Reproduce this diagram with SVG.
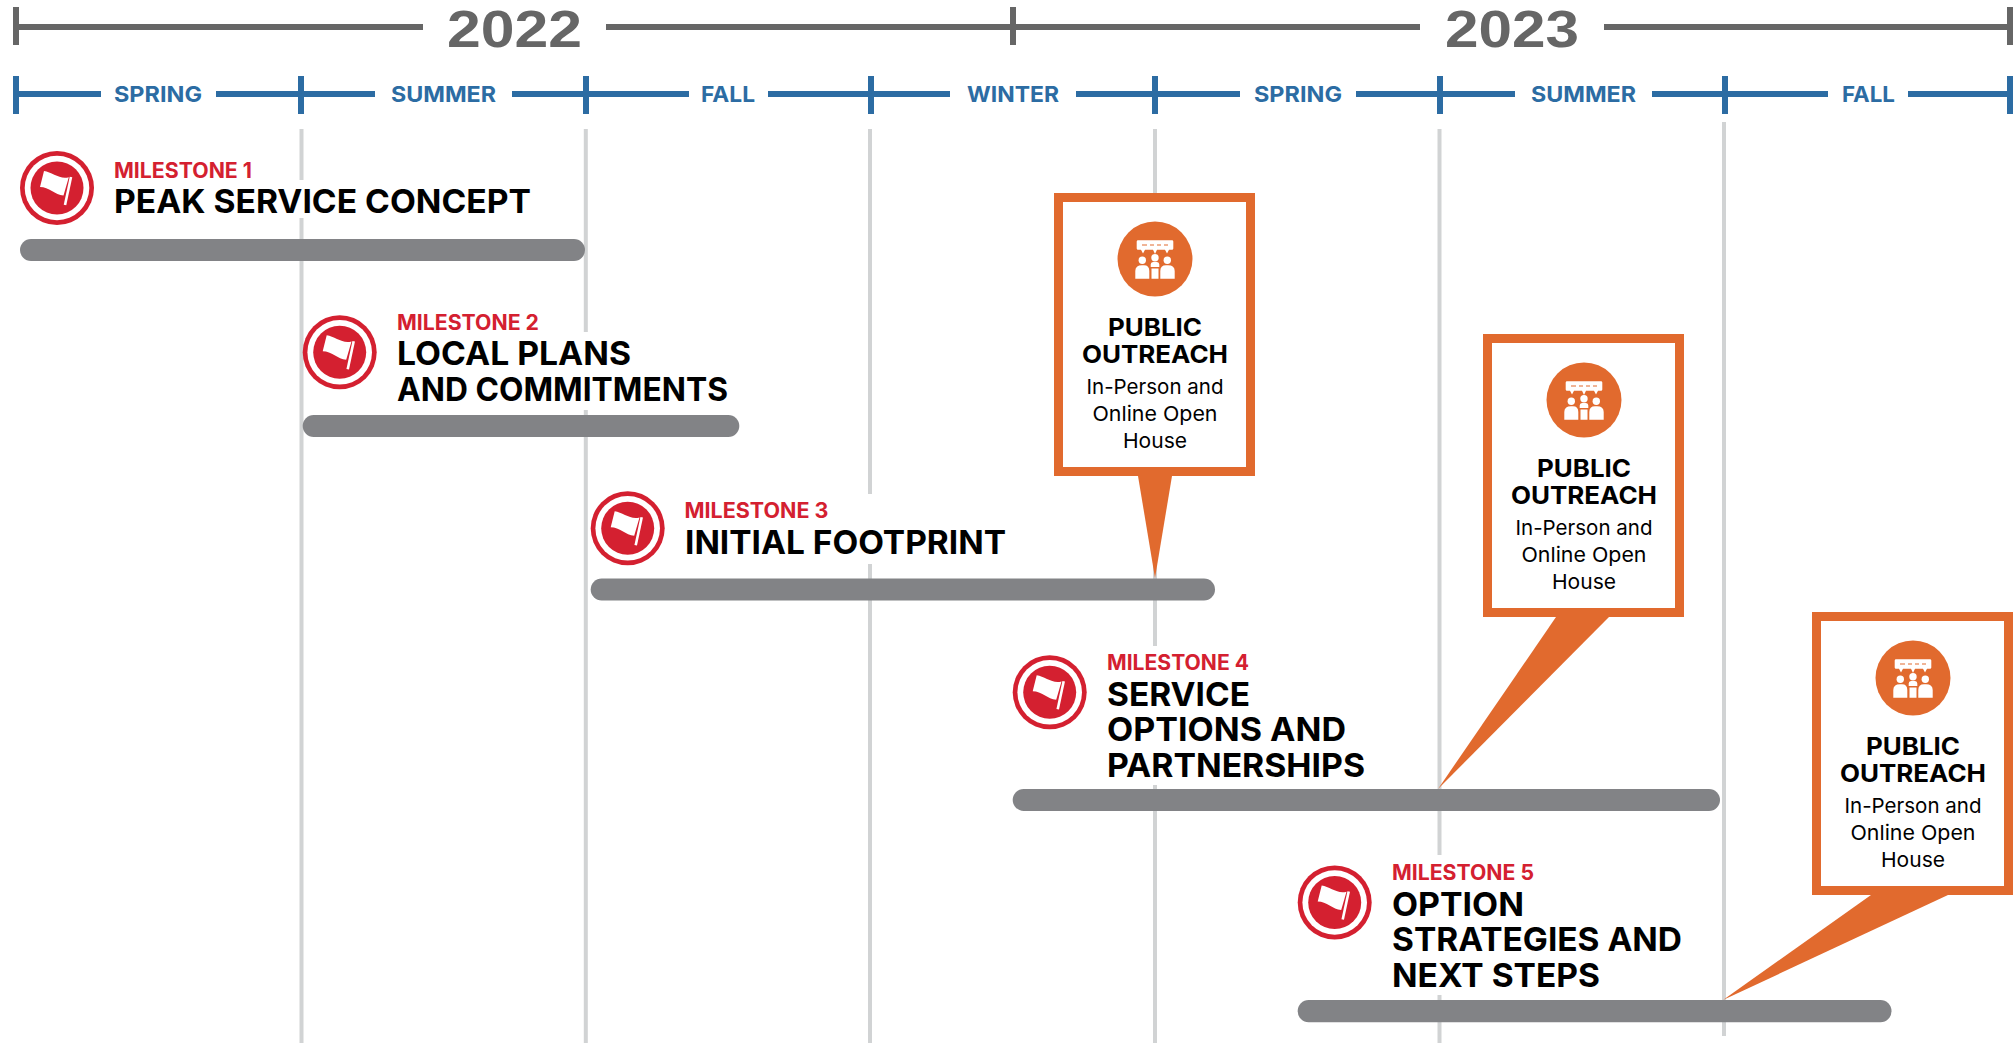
<svg xmlns="http://www.w3.org/2000/svg" xmlns:xlink="http://www.w3.org/1999/xlink" width="2013" height="1043" viewBox="0 0 2013 1043">
<style>
text{font-family:Inter,"Liberation Sans",sans-serif}
.yr{font-family:"Liberation Sans",Arial,sans-serif;font-size:52px;font-weight:700;fill:#666}
.sn{font-size:22px;font-weight:700;fill:#2c6ca3}
.ml{font-size:21px;font-weight:700;fill:#d42030}
.mt{font-size:33px;font-weight:700;fill:#000}
.ph{font-size:24.500px;font-weight:700;fill:#000;text-anchor:middle}
.ps{font-size:20.500px;font-weight:400;fill:#000;text-anchor:middle}
.g{stroke:#666;stroke-width:6;fill:none}
.b{stroke:#2c6ca3;stroke-width:6;fill:none}
.v{stroke:#d1d3d4;stroke-width:4;fill:none}
.bar{fill:#828386}
.o{fill:#e16a2e}
</style>
<defs>
<g id="flag">
<circle r="37" fill="#d42030"/><circle r="32.300" fill="#fff"/><circle r="26.500" fill="#d42030"/>
<path d="M-13-17C-5-16 3-8 11.800-10.800L6.500 7.500C-2 7-8-1-17-1Z" fill="#fff"/>
<path d="M14-11 8 17" stroke="#fff" stroke-width="2.600" fill="none"/>
</g>
<g id="pub">
<circle r="37.500" class="o"/>
<path d="M-17-18.700H17Q18.300-18.700 18.300-17.400V-10.600Q18.300-9.300 17-9.300H14L12-5.500 10-9.300H2L0-5-2-9.300H-10L-12-5.500-14-9.300H-17Q-18.300-9.300-18.300-10.600V-17.400Q-18.300-18.700-17-18.700Z" fill="#fff"/>
<path d="M-13-14H-8M-5-14H-1M2-14H6M9-14H13" stroke="#e16a2e" stroke-width="1.200"/>
<circle cx="-12.700" cy="1.300" r="3.700" fill="#fff"/><circle cx="0" cy="-1.300" r="3.700" fill="#fff"/><circle cx="12.300" cy="1.300" r="3.700" fill="#fff"/>
<path d="M-19.700 19.700V12Q-19.700 6.300-13 6.300H-11Q-5.700 6.300-5.700 12V19.700ZM19.700 19.700V12Q19.700 6.300 13 6.300H11Q5.300 6.300 5.300 12V19.700ZM-4.300 8V5.500Q-4.300 3-2 3H2Q4.300 3 4.300 5.500V8ZM-3.500 9.500H3.500V19.700H-3.500Z" fill="#fff"/>
</g>
</defs>
<rect width="2013" height="1043" fill="#fff"/>
<g id="axis-years">
<path class="g" d="M16 27H423M606 27H1420M1604 27H2010M16 7V45M1013 7V45M2010 7V45"/>
<text class="yr" x="447" y="47" textLength="135" lengthAdjust="spacingAndGlyphs">2022</text>
<text class="yr" x="1445" y="47" textLength="134" lengthAdjust="spacingAndGlyphs">2023</text>
</g>
<g id="axis-seasons">
<path class="b" d="M16 94H101M216 94H375M512 94H689M768 94H950M1076 94H1240M1356 94H1515M1652 94H1828M1908 94H2010M16 76V114M301 76V114M586 76V114M871 76V114M1155 76V114M1440 76V114M1725 76V114M2010 76V114"/>
<text class="sn" x="114" y="102" textLength="88" lengthAdjust="spacingAndGlyphs">SPRING</text>
<text class="sn" x="391" y="102" textLength="105" lengthAdjust="spacingAndGlyphs">SUMMER</text>
<text class="sn" x="701" y="102" textLength="54" lengthAdjust="spacingAndGlyphs">FALL</text>
<text class="sn" x="967" y="102" textLength="92" lengthAdjust="spacingAndGlyphs">WINTER</text>
<text class="sn" x="1254" y="102" textLength="88" lengthAdjust="spacingAndGlyphs">SPRING</text>
<text class="sn" x="1531" y="102" textLength="105" lengthAdjust="spacingAndGlyphs">SUMMER</text>
<text class="sn" x="1842" y="102" textLength="53" lengthAdjust="spacingAndGlyphs">FALL</text>
</g>
<g id="grid">
<path class="v" d="M301.500 129V1043M585.800 129V1043M870 129V1043M1155 129V1043M1439.500 129V1043M1724 122V1036"/>
</g>
<g id="halos" fill="#fff">
<rect x="285" y="180" width="40" height="38"/>
<rect x="570" y="332" width="40" height="78"/>
<rect x="855" y="494" width="40" height="70"/>
<rect x="1140" y="646" width="40" height="139"/>
<rect x="1425" y="855" width="40" height="140"/>
</g>
<g id="connectors">
<path class="o" d="M1138 476H1172L1155 578Z"/>
<path class="o" d="M1556 617H1609L1438 789Z"/>
<path class="o" d="M1871 895H1948L1723 1000Z"/>
</g>
<g id="milestone-1">
<rect class="bar" x="20" y="239" width="565" height="22" rx="11"/>
<use xlink:href="#flag" href="#flag" x="57" y="188"/>
<text class="ml" x="114" y="178" textLength="138" lengthAdjust="spacingAndGlyphs">MILESTONE 1</text>
<text class="mt" x="114" y="213" textLength="417" lengthAdjust="spacingAndGlyphs">PEAK SERVICE CONCEPT</text>
</g>
<g id="milestone-2">
<rect class="bar" x="302.700" y="415" width="436.600" height="22" rx="11"/>
<use xlink:href="#flag" href="#flag" x="339.700" y="352.300"/>
<text class="ml" x="397" y="330" textLength="142" lengthAdjust="spacingAndGlyphs">MILESTONE 2</text>
<text class="mt" x="397" y="365" textLength="234" lengthAdjust="spacingAndGlyphs">LOCAL PLANS</text>
<text class="mt" x="397" y="401" textLength="331" lengthAdjust="spacingAndGlyphs">AND COMMITMENTS</text>
</g>
<g id="milestone-3">
<rect class="bar" x="590.700" y="578.500" width="624.300" height="22" rx="11"/>
<use xlink:href="#flag" href="#flag" x="627.700" y="528.300"/>
<text class="ml" x="684.500" y="518" textLength="144" lengthAdjust="spacingAndGlyphs">MILESTONE 3</text>
<text class="mt" x="685" y="554" textLength="321" lengthAdjust="spacingAndGlyphs">INITIAL FOOTPRINT</text>
</g>
<g id="milestone-4">
<rect class="bar" x="1012.700" y="789" width="707.300" height="22" rx="11"/>
<use xlink:href="#flag" href="#flag" x="1049.700" y="692.300"/>
<text class="ml" x="1107" y="670" textLength="142" lengthAdjust="spacingAndGlyphs">MILESTONE 4</text>
<text class="mt" x="1107" y="705.700" textLength="143" lengthAdjust="spacingAndGlyphs">SERVICE</text>
<text class="mt" x="1107" y="741" textLength="239" lengthAdjust="spacingAndGlyphs">OPTIONS AND</text>
<text class="mt" x="1107" y="776.700" textLength="258" lengthAdjust="spacingAndGlyphs">PARTNERSHIPS</text>
</g>
<g id="milestone-5">
<rect class="bar" x="1297.700" y="1000" width="593.800" height="22.300" rx="11"/>
<use xlink:href="#flag" href="#flag" x="1334.700" y="902.500"/>
<text class="ml" x="1392" y="880" textLength="142" lengthAdjust="spacingAndGlyphs">MILESTONE 5</text>
<text class="mt" x="1392" y="916" textLength="132" lengthAdjust="spacingAndGlyphs">OPTION</text>
<text class="mt" x="1392" y="951" textLength="290" lengthAdjust="spacingAndGlyphs">STRATEGIES AND</text>
<text class="mt" x="1392" y="986.700" textLength="208" lengthAdjust="spacingAndGlyphs">NEXT STEPS</text>
</g>
<g id="callout-1">
<rect x="1058.500" y="197.500" width="192" height="274" fill="#fff" stroke="#e16a2e" stroke-width="9"/>
<use xlink:href="#pub" href="#pub" x="1155" y="259"/>
<text class="ph" x="1155" y="336" textLength="94" lengthAdjust="spacingAndGlyphs">PUBLIC</text><text class="ph" x="1155" y="363" textLength="146" lengthAdjust="spacingAndGlyphs">OUTREACH</text>
<text class="ps" x="1155" y="394" textLength="137" lengthAdjust="spacingAndGlyphs">In-Person and</text><text class="ps" x="1155" y="420.500" textLength="125" lengthAdjust="spacingAndGlyphs">Online Open</text><text class="ps" x="1155" y="447.500" textLength="64" lengthAdjust="spacingAndGlyphs">House</text>
</g>
<g id="callout-2">
<rect x="1487.500" y="338.500" width="192" height="274" fill="#fff" stroke="#e16a2e" stroke-width="9"/>
<use xlink:href="#pub" href="#pub" x="1584" y="400"/>
<text class="ph" x="1584" y="477" textLength="94" lengthAdjust="spacingAndGlyphs">PUBLIC</text><text class="ph" x="1584" y="504" textLength="146" lengthAdjust="spacingAndGlyphs">OUTREACH</text>
<text class="ps" x="1584" y="535" textLength="137" lengthAdjust="spacingAndGlyphs">In-Person and</text><text class="ps" x="1584" y="561.500" textLength="125" lengthAdjust="spacingAndGlyphs">Online Open</text><text class="ps" x="1584" y="588.500" textLength="64" lengthAdjust="spacingAndGlyphs">House</text>
</g>
<g id="callout-3">
<rect x="1816.500" y="616.500" width="192" height="274" fill="#fff" stroke="#e16a2e" stroke-width="9"/>
<use xlink:href="#pub" href="#pub" x="1913" y="678"/>
<text class="ph" x="1913" y="755" textLength="94" lengthAdjust="spacingAndGlyphs">PUBLIC</text><text class="ph" x="1913" y="782" textLength="146" lengthAdjust="spacingAndGlyphs">OUTREACH</text>
<text class="ps" x="1913" y="813" textLength="137" lengthAdjust="spacingAndGlyphs">In-Person and</text><text class="ps" x="1913" y="839.500" textLength="125" lengthAdjust="spacingAndGlyphs">Online Open</text><text class="ps" x="1913" y="866.500" textLength="64" lengthAdjust="spacingAndGlyphs">House</text>
</g>
</svg>
